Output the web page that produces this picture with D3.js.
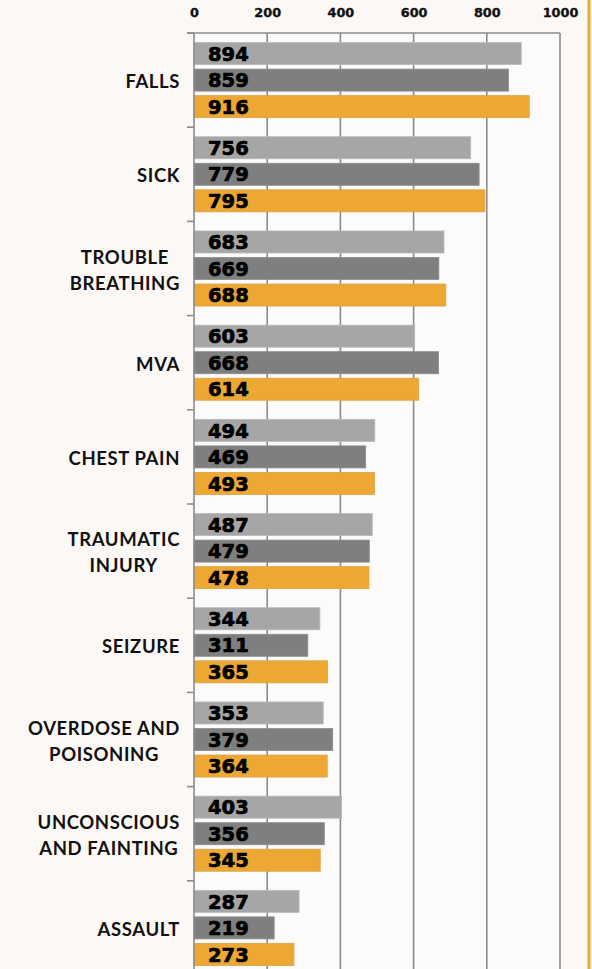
<!DOCTYPE html>
<html>
<head>
<meta charset="utf-8">
<script src="https://cdn.jsdelivr.net/npm/d3@7"></script>
<style>
  html, body { margin: 0; padding: 0; background: #fbf8f5; }
  svg { display: block; }
</style>
</head>
<body>
<svg id="chart" width="592" height="969"></svg>
<script>
const categories = ["FALLS", "SICK", "TROUBLE\nBREATHING", "MVA", "CHEST PAIN", "TRAUMATIC\nINJURY", "SEIZURE", "OVERDOSE AND\nPOISONING", "UNCONSCIOUS\nAND FAINTING", "ASSAULT"];
const seriesNames = ["A", "B", "C"];
const seriesA = [894, 756, 683, 603, 494, 487, 344, 353, 403, 287];
const seriesB = [859, 779, 669, 668, 469, 479, 311, 379, 356, 219];
const seriesC = [916, 795, 688, 614, 493, 478, 365, 364, 345, 273];
const tickValues = [0, 200, 400, 600, 800, 1000];
const colors = ["#a6a6a6", "#7f7f7f", "#eda834"];
const strokes = ["#b8b8b8", "#8c8c8c", "#dba24a"];

const allSeries = [seriesA, seriesB, seriesC];
const svg = d3.select("#chart");

const x = d3.scaleLinear().domain([0, 1000]).range([194, 560]);
const y0 = d3.scaleBand().domain(categories).range([33, 33 + 94.2 * 10]).padding(0);
const y1 = d3.scaleBand().domain(seriesNames).range([0, y0.bandwidth()]).paddingInner(0.17).paddingOuter(0.36);

// outer right orange rule
svg.append("line").attr("x1", 589).attr("x2", 589).attr("y1", 0).attr("y2", 969)
  .attr("stroke", "#eda834").attr("stroke-width", 3);

// plot area bg
svg.append("rect").attr("x", x(0)).attr("y", 33).attr("width", x(1000) - x(0)).attr("height", 969 - 33)
  .attr("fill", "#fdfbf9");

// gridlines
svg.append("g").selectAll("line").data(tickValues.filter(d => d > 0)).join("line")
  .attr("x1", d => x(d)).attr("x2", d => x(d)).attr("y1", 33).attr("y2", 969)
  .attr("stroke", "#8c8c8c").attr("stroke-width", 1.6);

// top frame line
svg.append("line").attr("x1", 187).attr("x2", x(1000)).attr("y1", 33).attr("y2", 33)
  .attr("stroke", "#8c8c8c").attr("stroke-width", 1.6);

// top axis tick labels
const xAxis = d3.axisTop(x).tickValues(tickValues).tickSize(0).tickPadding(0).tickFormat(d3.format("d"));
const gx = svg.append("g").attr("transform", "translate(0,17)").call(xAxis);
gx.select(".domain").remove();
gx.selectAll("text").attr("font-family", "DejaVu Sans").attr("font-weight", "bold")
  .attr("font-size", 12.8).attr("fill", "#111").attr("stroke", "#111").attr("stroke-width", 0.35).attr("dy", 0);

// bars
const data = categories.map((c, i) => ({ cat: c, vals: seriesNames.map((s, j) => ({ s, j, v: allSeries[j][i] })) }));
const groups = svg.append("g").selectAll("g").data(data).join("g")
  .attr("transform", d => `translate(0,${y0(d.cat)})`);
groups.selectAll("rect").data(d => d.vals).join("rect")
  .attr("x", x(0)).attr("y", d => y1(d.s)).attr("width", d => x(d.v) - x(0)).attr("height", y1.bandwidth())
  .attr("fill", d => colors[d.j]).attr("stroke", d => strokes[d.j]).attr("stroke-width", 0.8);
groups.selectAll("text").data(d => d.vals).join("text")
  .attr("x", 208).attr("y", d => y1(d.s) + y1.bandwidth() / 2 + 7.2)
  .attr("font-family", "DejaVu Sans").attr("font-weight", "bold").attr("font-size", 19.5)
  .attr("fill", "#000").attr("stroke", "#000").attr("stroke-width", 0.7)
  .text(d => d.v);

// left axis
svg.append("line").attr("x1", x(0)).attr("x2", x(0)).attr("y1", 33).attr("y2", 969)
  .attr("stroke", "#8c8c8c").attr("stroke-width", 1.6);
svg.append("g").selectAll("line").data(categories).join("line")
  .attr("x1", 187).attr("x2", x(0)).attr("y1", d => y0(d)).attr("y2", d => y0(d))
  .attr("stroke", "#8c8c8c").attr("stroke-width", 1.6);

// category labels
const labelG = svg.append("g");
categories.forEach(c => {
  const lines = c.split("\n");
  const cy = y0(c) + y0.bandwidth() / 2 + 1.5;
  const lh = 26;
  const g = labelG.append("g");
  const texts = lines.map((ln, k) => g.append("text")
    .attr("font-family", "Lato").attr("font-weight", "bold").attr("font-size", 18.5)
    .attr("letter-spacing", 0.6)
    .attr("fill", "#111").attr("text-anchor", "middle")
    .attr("y", cy + (k - (lines.length - 1) / 2) * lh + 6.6)
    .text(ln));
  const w = d3.max(texts, t => t.node().getComputedTextLength());
  texts.forEach(t => t.attr("x", 180 - w / 2));
});
</script>
</body>
</html>
